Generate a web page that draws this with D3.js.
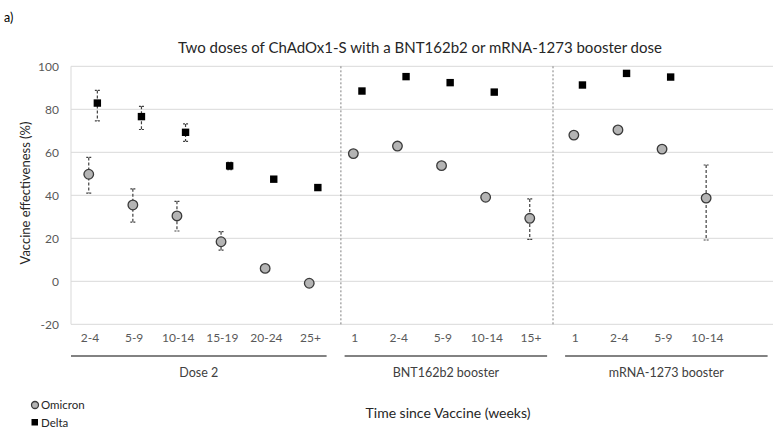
<!DOCTYPE html>
<html>
<head>
<meta charset="utf-8">
<script src="https://cdn.jsdelivr.net/npm/d3@7"></script>
<style>
  html, body { margin: 0; padding: 0; background: #fff; }
  svg { display: block; }
  text { font-family: Lato, "Open Sans", sans-serif; }
</style>
</head>
<body>
<svg id="chart" width="773" height="428"></svg>
<script>
// ---- data ----
const categories = ["2-4","5-9","10-14","15-19","20-24","25+","1","2-4","5-9","10-14","15+","1","2-4","5-9","10-14"];
const groups = ["Dose 2","BNT162b2 booster","mRNA-1273 booster"];
const groupStart = [0, 6, 11];
const groupEnd = [6, 11, 16];
const dividerAt = [6.12, 10.93];

const omicron    = [49.8, 35.5, 30.4, 18.4, 6.0, -0.9, 59.4, 62.9, 53.8, 39.1, 29.3, 68.0, 70.4, 61.5, 38.7];
const omicronLow = [41.0, 27.5, 23.4, 14.5, null, null, null, null, null, null, 19.5, null, null, null, 19.2];
const omicronHigh= [57.6, 43.0, 37.2, 23.1, null, null, null, null, null, null, 38.3, null, null, null, 54.1];

const delta      = [82.9, 76.6, 69.3, 53.7, 47.5, 43.6, 88.5, 95.2, 92.4, 88.0, null, 91.3, 96.7, 95.0, null];
const deltaLow   = [74.6, 70.6, 65.1, 51.9, null, null, null, null, null, null, null, null, null, null, null];
const deltaHigh  = [88.8, 81.4, 73.2, 55.3, null, null, null, null, null, null, null, null, null, null, null];

const yTicks = [-20, 0, 20, 40, 60, 80, 100];

const title = "Two doses of ChAdOx1-S with a BNT162b2 or mRNA-1273 booster dose";
const yTitle = "Vaccine effectiveness (%)";
const xTitle = "Time since Vaccine (weeks)";
const panelLabel = "a)";

// ---- layout ----
(function () {
const svg = d3.select("#chart");
const mLeft = 71, mTop = 66.3, mBottom = 324.3;
const x = d3.scaleLinear().domain([0, 16]).range([mLeft, mLeft + 16 * 44.1]);
const y = d3.scaleLinear().domain([-20, 100]).range([mBottom, mTop]);
const cx = i => x(i + 0.5);
const off = 4.3;

// gridlines
svg.append("g").selectAll("line").data(yTicks).join("line")
  .attr("x1", mLeft).attr("x2", 773)
  .attr("y1", d => y(d)).attr("y2", d => y(d))
  .attr("stroke", "#d9d9d9").attr("stroke-width", 1);
// left axis line
svg.append("line").attr("x1", mLeft).attr("x2", mLeft).attr("y1", y(100)).attr("y2", y(-20))
  .attr("stroke", "#d9d9d9");

// y tick labels
svg.append("g").selectAll("text").data(yTicks).join("text")
  .attr("x", mLeft - 12).attr("y", d => y(d)).attr("dy", "0.35em")
  .attr("text-anchor", "end").attr("font-size", 12).attr("fill", "#595959")
  .text(d => d);

// dividers
svg.append("g").selectAll("line").data(dividerAt).join("line")
  .attr("x1", d => x(d)).attr("x2", d => x(d))
  .attr("y1", y(100)).attr("y2", y(-20))
  .attr("stroke", "#7f7f7f").attr("stroke-width", 1).attr("stroke-dasharray", "2,2");

// x category labels
svg.append("g").selectAll("text").data(categories).join("text")
  .attr("x", (d, i) => cx(i) - 3).attr("y", 342)
  .attr("text-anchor", "middle").attr("font-size", 12).attr("fill", "#595959")
  .text(d => d);

// group underlines and labels
const gx1 = i => i === 0 ? x(groupStart[i]) : x(groupStart[i]) + 9;
const gx2 = i => x(groupEnd[i]) - 9;
const gsel = svg.append("g").selectAll("g").data(groups).join("g");
gsel.append("line")
  .attr("x1", (d, i) => gx1(i)).attr("x2", (d, i) => gx2(i))
  .attr("y1", 356).attr("y2", 356)
  .attr("stroke", "#595959").attr("stroke-width", 1.3);
gsel.append("text")
  .attr("x", (d, i) => (gx1(i) + gx2(i)) / 2)
  .attr("y", 377).attr("text-anchor", "middle").attr("font-size", 12.5).attr("fill", "#404040")
  .text(d => d);

// error bars
function errorBars(vals, lo, hi, dx) {
  const idx = d3.range(vals.length).filter(i => lo[i] != null && hi[i] != null);
  const g = svg.append("g").attr("stroke", "#404040").attr("stroke-width", 1.2);
  g.selectAll("line.v").data(idx).join("line").attr("class", "v")
    .attr("x1", i => cx(i) + dx).attr("x2", i => cx(i) + dx)
    .attr("y1", i => y(hi[i])).attr("y2", i => y(lo[i]))
    .attr("stroke-dasharray", "3,2");
  g.selectAll("line.t").data(idx).join("line").attr("class", "t")
    .attr("x1", i => cx(i) + dx - 2.5).attr("x2", i => cx(i) + dx + 2.5)
    .attr("y1", i => y(hi[i])).attr("y2", i => y(hi[i])).attr("stroke-dasharray", "2,1");
  g.selectAll("line.b").data(idx).join("line").attr("class", "b")
    .attr("x1", i => cx(i) + dx - 2.5).attr("x2", i => cx(i) + dx + 2.5)
    .attr("y1", i => y(lo[i])).attr("y2", i => y(lo[i])).attr("stroke-dasharray", "2,1");
}
errorBars(omicron, omicronLow, omicronHigh, -off);
errorBars(delta, deltaLow, deltaHigh, off);

// delta squares
const dIdx = d3.range(delta.length).filter(i => delta[i] != null);
svg.append("g").selectAll("rect").data(dIdx).join("rect")
  .attr("x", i => cx(i) + off - 3.7).attr("y", i => y(delta[i]) - 3.7)
  .attr("width", 7.4).attr("height", 7.4).attr("fill", "#000");

// omicron circles
const oIdx = d3.range(omicron.length).filter(i => omicron[i] != null);
svg.append("g").selectAll("circle").data(oIdx).join("circle")
  .attr("cx", i => cx(i) - off).attr("cy", i => y(omicron[i])).attr("r", 4.8)
  .attr("fill", "#b4b4b4").attr("stroke", "#3a3a3a").attr("stroke-width", 1.3);

// titles
svg.append("text").attr("x", 420).attr("y", 53).attr("text-anchor", "middle")
  .attr("font-size", 15).attr("fill", "#262626").text(title);
svg.append("text").attr("transform", "translate(30,193) rotate(-90)")
  .attr("text-anchor", "middle").attr("font-size", 13).attr("fill", "#262626").text(yTitle);
svg.append("text").attr("x", 448).attr("y", 418).attr("text-anchor", "middle")
  .attr("font-size", 14).attr("fill", "#262626").text(xTitle);
svg.append("text").attr("x", 4).attr("y", 22).attr("font-size", 12.5).attr("fill", "#000").text(panelLabel);

// legend
const lg = svg.append("g");
lg.append("circle").attr("cx", 35).attr("cy", 405).attr("r", 3.5)
  .attr("fill", "#b4b4b4").attr("stroke", "#3a3a3a").attr("stroke-width", 1.3);
lg.append("text").attr("x", 41).attr("y", 409).attr("font-size", 11.5).attr("fill", "#262626").text("Omicron");
lg.append("rect").attr("x", 31.5).attr("y", 419).attr("width", 6.5).attr("height", 6.5).attr("fill", "#000");
lg.append("text").attr("x", 41).attr("y", 427).attr("font-size", 11.5).attr("fill", "#262626").text("Delta");
})();
</script>
</body>
</html>
